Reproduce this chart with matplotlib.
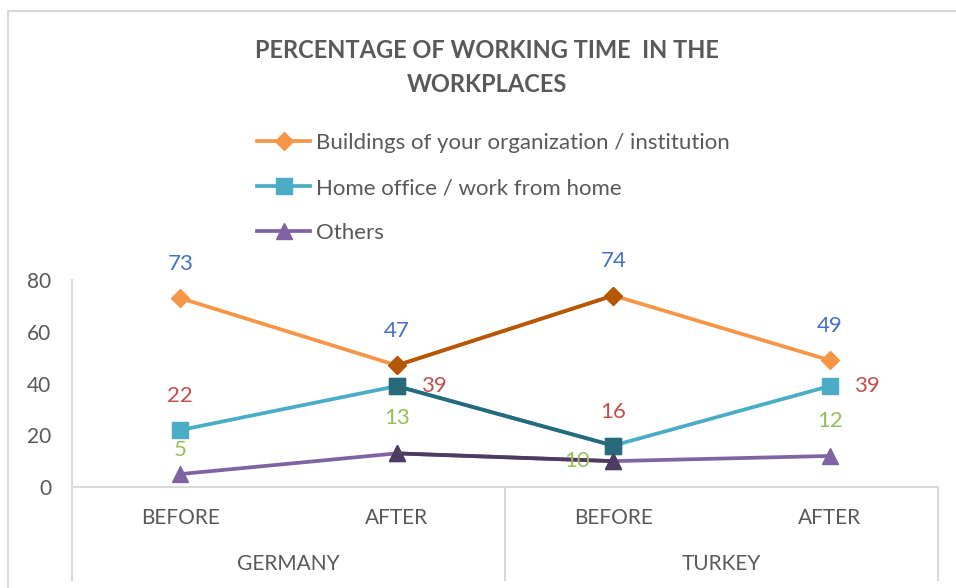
import numpy as np
import matplotlib.pyplot as plt
from matplotlib.lines import Line2D

plt.rcParams['font.family'] = ['Lato', 'DejaVu Sans']

countries = ['GERMANY', 'TURKEY']
periods = ['BEFORE', 'AFTER', 'BEFORE', 'AFTER']
buildings = [73, 47, 74, 49]
home = [22, 39, 16, 39]
others = [5, 13, 10, 12]
series_names = ['Buildings of your organization / institution',
                'Home office / work from home',
                'Others']

grey = '#595959'
W, H = 956, 588
fig = plt.figure(figsize=(W / 100, H / 100), dpi=100)

def fx(px):
    return px / W

def fy(py):
    return 1 - py / H

ax = fig.add_axes([fx(72), fy(487), fx(938) - fx(72), fy(280) - fy(487)])
x = np.arange(len(periods))

styles = [
    (buildings, 'D', 9.5, '#F79646', '#B65708'),
    (home, 's', 11, '#4BACC6', '#276A7C'),
    (others, '^', 11, '#8064A2', '#4D3B62'),
]
handles = []
for (vals, mk, ms, light, dark), name in zip(styles, series_names):
    ln, = ax.plot(x, vals, color=light, lw=2.7, marker=mk, ms=ms,
                  markerfacecolor=light, markeredgecolor=light, label=name,
                  clip_on=False, zorder=3)
    handles.append(ln)
    # darker segment between Germany AFTER and Turkey BEFORE
    ax.plot(x[1:3], vals[1:3], color=dark, lw=2.7, marker=mk, ms=ms,
            markerfacecolor=dark, markeredgecolor=dark, clip_on=False, zorder=3)

# data labels
def lab(i, v, color, dx=0, dy=24.5):
    ax.annotate(str(v), (x[i], v), xytext=(dx, dy), textcoords='offset points',
                ha='center', va='center', color=color, fontsize=16, zorder=5)

for i, v in enumerate(buildings):
    lab(i, v, '#4472C4')
for i, v in enumerate(home):
    if i in (1, 3):
        lab(i, v, '#C0504D', dx=27, dy=0)
    else:
        lab(i, v, '#C0504D')
for i, v in enumerate(others):
    if i == 2:
        lab(i, v, '#9BBB59', dx=-26, dy=0)
    elif i == 0:
        lab(i, v, '#9BBB59', dy=17)
    else:
        lab(i, v, '#9BBB59', dy=25.5)

ax.set_xlim(-0.5, 3.5)
ax.set_ylim(0, 80)
ax.set_yticks([0, 20, 40, 60, 80])
ax.tick_params(axis='y', length=0, labelsize=15, labelcolor=grey, pad=15)
ax.set_xticks([])
for s in ['top', 'right', 'left']:
    ax.spines[s].set_visible(False)
ax.spines['bottom'].set_color('#D9D9D9')
ax.spines['bottom'].set_linewidth(1.5)

# category labels
for i, p in enumerate(periods):
    ax.text(x[i], -31 / 207 * 80, p, ha='center', va='center', fontsize=15,
            color=grey, transform=ax.transData)
for j, c in enumerate(countries):
    ax.text(0.5 + 2 * j, -77 / 207 * 80, c, ha='center', va='center',
            fontsize=15, color=grey, transform=ax.transData)

# group separators and axis line
sep = '#D9D9D9'
fig.add_artist(Line2D([fx(72), fx(72)], [fy(280), fy(580)], color=sep, lw=1.5))
fig.add_artist(Line2D([fx(505), fx(505)], [fy(487), fy(580)], color=sep, lw=1.5))
fig.add_artist(Line2D([fx(938), fx(938)], [fy(487), fy(580)], color=sep, lw=1.5))
# chart frame
fig.add_artist(Line2D([fx(7.5), fx(7.5)], [fy(11), fy(588)], color=sep, lw=1.5))
fig.add_artist(Line2D([fx(7.5), fx(956)], [fy(11), fy(11)], color=sep, lw=1.5))

fig.text(fx(487), fy(51), 'PERCENTAGE OF WORKING TIME  IN THE', ha='center',
         va='center', fontsize=17, fontweight='bold', color=grey)
fig.text(fx(487), fy(85), 'WORKPLACES', ha='center', va='center',
         fontsize=17, fontweight='bold', color=grey)

fig.legend(handles=handles, loc='upper left',
           bbox_to_anchor=(fx(257), fy(133)), frameon=False, fontsize=16,
           labelcolor=grey, handlelength=2.4, handletextpad=0.27,
           labelspacing=1.13, borderpad=0, borderaxespad=0)

fig.savefig('out.png', dpi=100)
